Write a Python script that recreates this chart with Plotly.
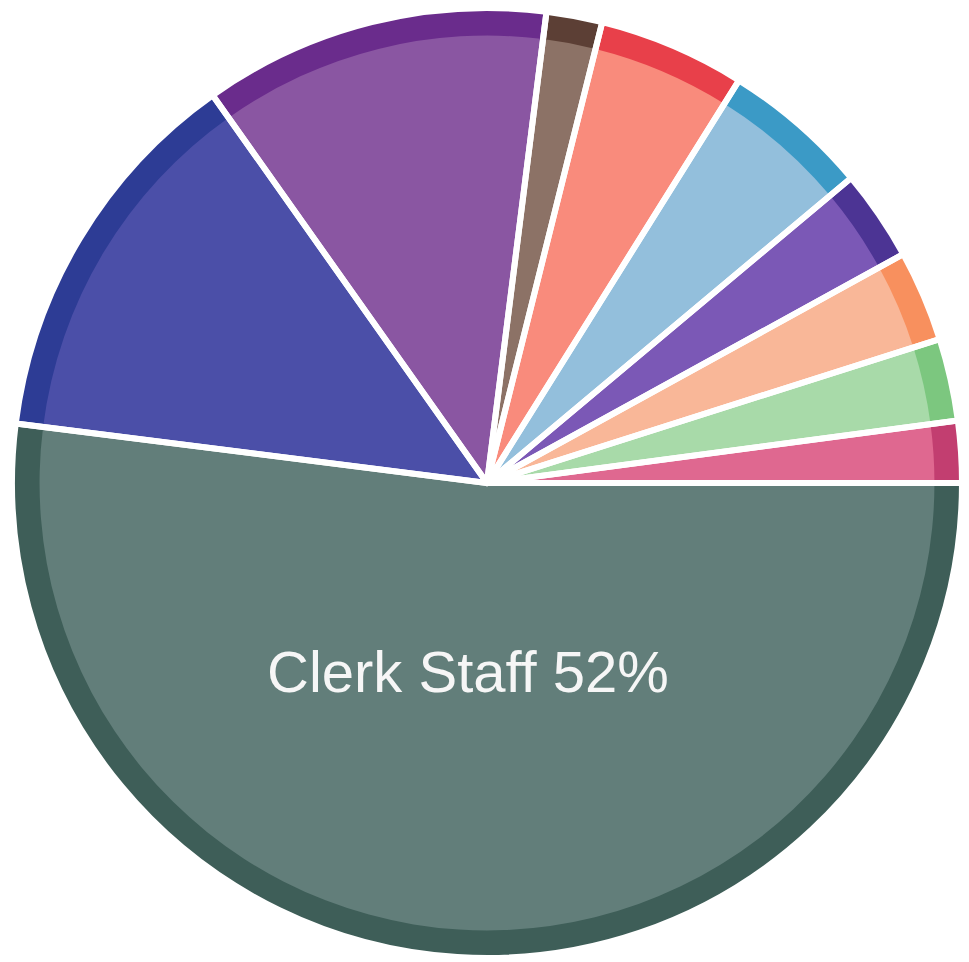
import plotly.graph_objects as go

# Staff composition (percent of total), clockwise from 3 o'clock
labels = [
    "Clerk Staff", "Group B", "Group C", "Group D", "Group E",
    "Group F", "Group G", "Group H", "Group I", "Group J",
]
values = [52, 13.2, 11.8, 1.9, 5.0, 5.0, 3.1, 3.1, 2.8, 2.1]

# Fill colours and the darker rim shade of each slice
fill_colors = [
    "#627e7a", "#4b4fa8", "#8a56a2", "#8c7266", "#f98b7c",
    "#93bfdc", "#7b58b6", "#f9b798", "#a8daa9", "#df6890",
]
rim_colors = [
    "#3e5e58", "#2d3c95", "#6a2c8c", "#5c3f35", "#e8404a",
    "#3b9ac6", "#4c3494", "#f8905e", "#7cc77f", "#c23e70",
]

W, H = 969, 962
cx, cy, r = 487, 483, 475
dom_x = [(cx - r) / W, (cx + r) / W]
dom_y = [(H - cy - r) / H, (H - cy + r) / H]

common = dict(
    labels=labels,
    values=values,
    sort=False,
    direction="clockwise",
    rotation=90,
    textinfo="none",
    domain=dict(x=dom_x, y=dom_y),
    showlegend=False,
    hoverinfo="label+percent",
)

fig = go.Figure()
# Base pie with the light fills
fig.add_trace(go.Pie(marker=dict(colors=fill_colors, line=dict(width=0)), **common))
# Dark rim band around the edge
fig.add_trace(go.Pie(hole=0.942, marker=dict(colors=rim_colors, line=dict(width=0)), **common))
# White separators drawn over both layers
fig.add_trace(go.Pie(
    marker=dict(colors=["rgba(0,0,0,0)"] * len(values), line=dict(color="white", width=6)),
    **common,
))

fig.add_annotation(
    x=468 / W, y=1 - 671 / H, xref="paper", yref="paper",
    text=f"{labels[0]} {values[0]:g}%",
    showarrow=False,
    font=dict(family="Liberation Sans, Arial, sans-serif", size=58, color="#f6f6f6"),
    xanchor="center", yanchor="middle",
)

fig.update_layout(
    width=W, height=H,
    margin=dict(l=0, r=0, t=0, b=0),
    paper_bgcolor="white", plot_bgcolor="white",
)

fig.write_html("out.html")
